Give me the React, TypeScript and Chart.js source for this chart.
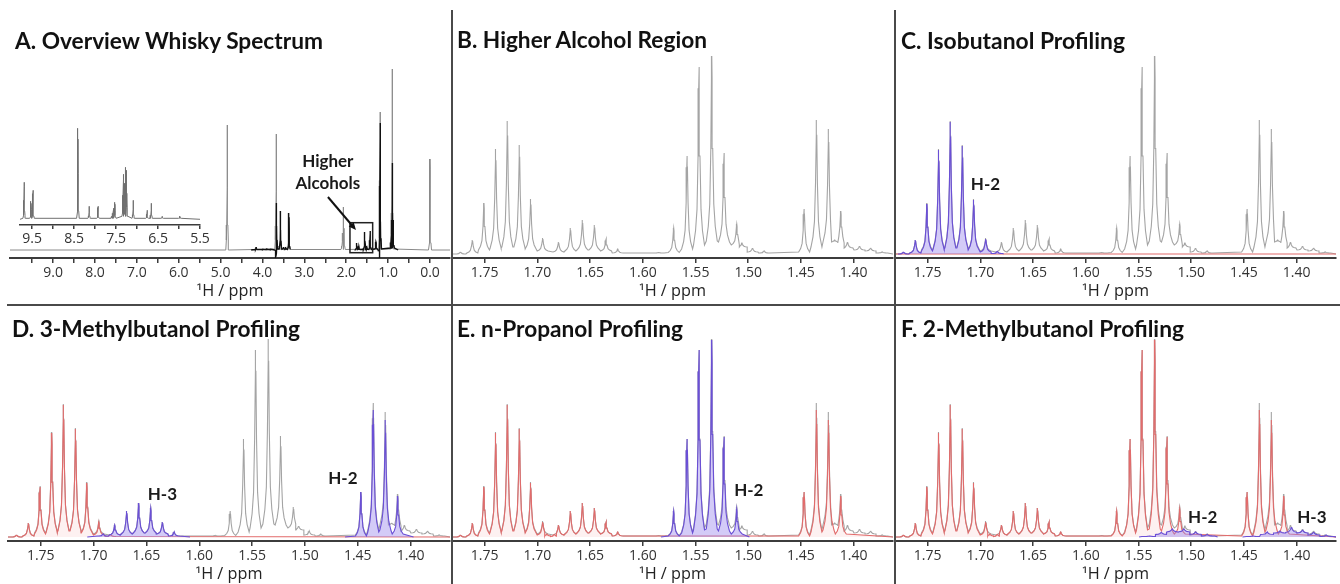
import React, { useEffect, useRef } from "react";
import { Chart, registerables } from "chart.js";

Chart.register(...registerables);

// ================= DATA =================
// Panel A – overview spectrum (ppm, relative intensity above baseline, local valley floor)
const OVERVIEW_TICKS = [9.5, 9, 8.5, 8, 7.5, 7, 6.5, 6, 5.5, 5, 4.5, 4, 3.5, 3, 2.5, 2, 1.5, 1, 0.5, 0];
const OVERVIEW_LABELS = [9, 8, 7, 6, 5, 4, 3, 2, 1, 0];
const OVERVIEW_PPM = [4.84, 4.16, 3.67, 3.57, 3.37, 2.09, 2.06, 1.19, 0.9, 0.0];
const OVERVIEW_HEIGHT = [125, 3, 116, 39, 37, 17, 43, 138, 181, 91];
const OVERVIEW_FLOOR = [0, 0.5, 1, 1, 0.5, 0.5, 0.5, 1, 1, 0];

const OVERVIEW_DARK_PPM = [4.15, 3.99, 3.9, 3.8, 3.68, 3.665, 3.57, 3.5, 3.45, 3.37, 1.75, 1.7, 1.56, 1.51, 1.43, 1.29, 1.205, 1.19, 0.92, 0.9, 0.88];
const OVERVIEW_DARK_HEIGHT = [3, 1, 1.5, 1, -7, 47, 39, 3, 3, 37, 7, 4, 18, 4, 19, 8, -8, 127, 30, 87, 30];
const OVERVIEW_DARK_FLOOR = [0.5, 0.5, 0.5, 0.5, 0, 1, 1, 1, 1, 0.5, 0.5, 0.5, 0.5, 0.5, 0.5, 1, 0, 1, 2, 2, 2];

// Panel A inset – aromatic region
const INSET_TICKS = [9.5, 9, 8.5, 8, 7.5, 7, 6.5, 6, 5.5];
const INSET_LABELS = [9.5, 8.5, 7.5, 6.5, 5.5];
const INSET_PPM = [9.69, 9.53, 9.48, 8.41, 8.14, 7.93, 7.61, 7.57, 7.53, 7.33, 7.3, 7.28, 7.25, 7.09, 6.76, 6.66, 6.4, 5.98];
const INSET_HEIGHT = [37, 18, 29, 91, 13, 13, 3, 11, 17, 45, 36, 52, 49, 19, 9, 16, 3, 3];
const INSET_FLOOR = [1, 1, 1, 1, 1, 1, 1, 1, 1, 3, 5, 5, 3, 1, 1, 1, 1, 1];

// Panels B–F – higher alcohol region
const REGION_TICKS = [1.75, 1.7, 1.65, 1.6, 1.55, 1.5, 1.45, 1.4];

// observed spectrum
const OBS_PPM = [1.773, 1.7617, 1.7507, 1.7396, 1.7285, 1.7171, 1.7064, 1.695, 1.68, 1.6687, 1.6573, 1.6459, 1.6349, 1.6238, 1.585, 1.5707, 1.558, 1.5467, 1.5346, 1.523, 1.5109, 1.506, 1.496, 1.485, 1.447, 1.4353, 1.4239, 1.418, 1.4122, 1.4059, 1.3945, 1.384, 1.373];
const OBS_HEIGHT = [2, 14, 51, 105, 133, 109, 55, 16, 12, 26, 34, 29, 15, 5, 1.5, 26, 98, 187, 198, 101, 30, 11, 6, 3, 45, 134, 125, 14, 43, 12, 8, 6, 2];
const OBS_FLOOR = [0, 1, 4, 6, 7, 7, 5, 3, 2, 3, 4, 4, 3, 1, 1, 1.5, 5, 9, 13, 12, 9, 7, 2, 1, 2, 7, 12, 12, 11, 6, 4, 3, 1];

// isobutanol H-2
const ISO_PPM = [1.773, 1.7617, 1.7507, 1.7396, 1.7285, 1.7171, 1.7064, 1.695, 1.684];
const ISO_HEIGHT = [2, 14, 50, 104, 132, 108, 54, 15, 2.5];
const ISO_FLOOR = [0, 1, 3, 5, 6, 6, 4, 2, 0.5];

// 3-methylbutanol H-3
const MB3_H3_PPM = [1.691, 1.68, 1.6687, 1.6573, 1.6459, 1.6349, 1.6238];
const MB3_H3_HEIGHT = [3, 12, 26, 34, 29, 15, 5];
const MB3_H3_FLOOR = [1, 2, 3, 4, 4, 3, 1];

// 3-methylbutanol H-2
const MB3_H2_PPM = [1.447, 1.4353, 1.4239, 1.4122];
const MB3_H2_HEIGHT = [45, 127, 117, 41];
const MB3_H2_FLOOR = [1, 5, 7, 3];

// n-propanol H-2
const NPROP_PPM = [1.5707, 1.558, 1.5467, 1.5346, 1.523, 1.5109];
const NPROP_HEIGHT = [26, 98, 187, 197, 100, 28];
const NPROP_FLOOR = [1, 4, 7, 8, 6, 3];

// 2-methylbutanol H-2 / H-3
const MB2_H2_PPM = [1.5395, 1.5284, 1.518, 1.507, 1.4958, 1.485];
const MB2_H2_HEIGHT = [1, 4.5, 8, 8, 5, 2.5];
const MB2_H2_FLOOR = [0.5, 2.5, 5, 5, 2.5, 1];

const MB2_H3_PPM = [1.4414, 1.428, 1.416, 1.405, 1.3945, 1.384, 1.372];
const MB2_H3_HEIGHT = [1, 5, 6, 10, 7, 5, 2];
const MB2_H3_FLOOR = [0.5, 2.5, 4, 4.5, 4, 2, 0.5];

// ================= STYLE / GEOMETRY =================
const REGION_MIN = 1.3627;
const REGION_MAX = 1.781;
const OVERVIEW_MIN = -0.478;
const OVERVIEW_MAX = 10.03;
const INSET_MIN = 5.5;
const INSET_MAX = 9.79;

const PAD = 18;
const AXIS_H = 30;

const GRAY = "#a4a4a4";
const A_GRAY = "#8a8a8a";
const PURPLE = "#6a4fd6";
const PURPLE_FILL = "rgba(150,130,236,0.42)";
const RED = "#e26b6b";
const RED_FILL = "rgba(236,120,120,0.10)";
const AXIS_COLOR = "#3c3c3c";

// line-shape vertices of one peak (offset in ppm, fraction of height above floor)
const PROFILE_OFFSET = [0.0052, 0.0033, 0.0019, 0.0009, 0.0003, 0];
const PROFILE_FRAC = [0, 0.08, 0.2, 0.5, 0.88, 1];

type PeakSet = { ppm: number[]; height: number[]; floor: number[] };
const peaks = (ppm: number[], height: number[], floor: number[]): PeakSet => ({ ppm, height, floor });
const merge = (...sets: PeakSet[]): PeakSet => ({
  ppm: sets.flatMap((s) => s.ppm),
  height: sets.flatMap((s) => s.height),
  floor: sets.flatMap((s) => s.floor),
});

type Pt = { x: number; y: number | null };

function spectrumPoints(
  s: PeakSet,
  widthScale: number,
  opts: { edges?: [number, number]; ext?: number; gap?: number } = {}
): Pt[] {
  const order = s.ppm.map((_, i) => i).sort((a, b) => s.ppm[a] - s.ppm[b]);
  const n = order.length;
  const pts: Pt[] = [];
  if (opts.edges) pts.push({ x: opts.edges[0], y: 0 });
  if (n === 0) {
    if (opts.edges) pts.push({ x: opts.edges[1], y: 0 });
    return pts;
  }
  if (!opts.edges && opts.ext) pts.push({ x: s.ppm[order[0]] - opts.ext, y: 0 });
  order.forEach((i, k) => {
    const p = s.ppm[i];
    const h = s.height[i];
    const f = s.floor[i];
    const prev = k > 0 ? s.ppm[order[k - 1]] : -Infinity;
    const next = k < n - 1 ? s.ppm[order[k + 1]] : Infinity;
    if (opts.gap && k > 0 && p - prev > opts.gap) pts.push({ x: (p + prev) / 2, y: null });
    const lo = (prev + p) / 2;
    const hi = (p + next) / 2;
    for (let j = 0; j < PROFILE_OFFSET.length; j++) {
      let x = p - PROFILE_OFFSET[j] * widthScale;
      if (j === 0) x = Math.max(x, lo);
      else if (x <= lo) continue;
      pts.push({ x, y: f + PROFILE_FRAC[j] * (h - f) });
    }
    for (let j = PROFILE_OFFSET.length - 2; j >= 0; j--) {
      let x = p + PROFILE_OFFSET[j] * widthScale;
      if (j === 0) x = Math.min(x, hi);
      else if (x >= hi) continue;
      pts.push({ x, y: f + PROFILE_FRAC[j] * (h - f) });
    }
  });
  if (opts.edges) pts.push({ x: opts.edges[1], y: 0 });
  else if (opts.ext) pts.push({ x: s.ppm[order[n - 1]] + opts.ext, y: 0 });
  return pts;
}

const OBS = peaks(OBS_PPM, OBS_HEIGHT, OBS_FLOOR);
const ISO = peaks(ISO_PPM, ISO_HEIGHT, ISO_FLOOR);
const MB3_H3 = peaks(MB3_H3_PPM, MB3_H3_HEIGHT, MB3_H3_FLOOR);
const MB3_H2 = peaks(MB3_H2_PPM, MB3_H2_HEIGHT, MB3_H2_FLOOR);
const NPROP = peaks(NPROP_PPM, NPROP_HEIGHT, NPROP_FLOOR);
const MB2_H2 = peaks(MB2_H2_PPM, MB2_H2_HEIGHT, MB2_H2_FLOOR);
const MB2_H3 = peaks(MB2_H3_PPM, MB2_H3_HEIGHT, MB2_H3_FLOOR);
const NONE = peaks([], [], []);

const REGION_EDGES: [number, number] = [REGION_MIN, REGION_MAX];

function line(data: Pt[], color: string, order: number, fillColor?: string, width = 1.1) {
  return {
    data,
    borderColor: color,
    borderWidth: width,
    pointRadius: 0,
    tension: 0,
    spanGaps: false,
    fill: fillColor ? "origin" : false,
    backgroundColor: fillColor || "transparent",
    order,
  };
}

const grayObs = () => line(spectrumPoints(OBS, 1, { edges: REGION_EDGES }), GRAY, 5);
const redFit = (s: PeakSet) => line(spectrumPoints(s, 1, { edges: REGION_EDGES }), RED, 3, RED_FILL);
const purpleFit = (s: PeakSet, ext: number, wScale = 1) =>
  line(spectrumPoints(s, wScale, { ext }), PURPLE, 1, PURPLE_FILL);

type Annot = {
  texts?: { text: string; x: number; y: number }[];
  box?: { x0: number; x1: number; y0: number; y1: number };
  arrow?: { from: [number, number]; to: [number, number] };
};

function annotPlugin(ann: Annot) {
  return {
    id: "annot",
    afterDatasetsDraw(chart: any) {
      const { ctx } = chart;
      const xs = chart.scales.x;
      const ys = chart.scales.y;
      ctx.save();
      if (ann.box) {
        const b = ann.box;
        const px0 = xs.getPixelForValue(b.x0);
        const px1 = xs.getPixelForValue(b.x1);
        const py0 = ys.getPixelForValue(b.y0);
        const py1 = ys.getPixelForValue(b.y1);
        ctx.strokeStyle = "#222";
        ctx.lineWidth = 1.5;
        ctx.strokeRect(Math.min(px0, px1), Math.min(py0, py1), Math.abs(px1 - px0), Math.abs(py1 - py0));
      }
      if (ann.arrow) {
        const ax0 = xs.getPixelForValue(ann.arrow.from[0]);
        const ay0 = ys.getPixelForValue(ann.arrow.from[1]);
        const ax1 = xs.getPixelForValue(ann.arrow.to[0]);
        const ay1 = ys.getPixelForValue(ann.arrow.to[1]);
        const ang = Math.atan2(ay1 - ay0, ax1 - ax0);
        const head = 8;
        ctx.strokeStyle = "#111";
        ctx.fillStyle = "#111";
        ctx.lineWidth = 2;
        ctx.beginPath();
        ctx.moveTo(ax0, ay0);
        ctx.lineTo(ax1 - Math.cos(ang) * head * 0.7, ay1 - Math.sin(ang) * head * 0.7);
        ctx.stroke();
        ctx.beginPath();
        ctx.moveTo(ax1, ay1);
        ctx.lineTo(ax1 - head * Math.cos(ang - 0.42), ay1 - head * Math.sin(ang - 0.42));
        ctx.lineTo(ax1 - head * Math.cos(ang + 0.42), ay1 - head * Math.sin(ang + 0.42));
        ctx.closePath();
        ctx.fill();
      }
      (ann.texts || []).forEach((t) => {
        ctx.font = "bold 17px Lato, 'Open Sans', sans-serif";
        ctx.fillStyle = "#1a1a1a";
        ctx.textAlign = "center";
        ctx.textBaseline = "middle";
        ctx.fillText(t.text, xs.getPixelForValue(t.x), ys.getPixelForValue(t.y));
      });
      ctx.restore();
    },
  };
}

type Area = { x0: number; x1: number; y0: number; y1: number };

function makeConfig(p: {
  datasets: any[];
  xMin: number;
  xMax: number;
  yMin: number;
  yMax: number;
  ticks: number[];
  labels: number[];
  decimals: number;
  fontSize: number;
  tickLen: number;
  borderWidth: number;
  annot?: Annot;
}) {
  return {
    type: "line",
    data: { datasets: p.datasets },
    options: {
      responsive: false,
      animation: false,
      devicePixelRatio: 1,
      events: [],
      layout: { padding: { left: PAD, right: PAD, top: 0, bottom: 0 } },
      plugins: { legend: { display: false }, tooltip: { enabled: false }, title: { display: false } },
      scales: {
        x: {
          type: "linear",
          reverse: true,
          min: p.xMin,
          max: p.xMax,
          afterBuildTicks: (s: any) => {
            s.ticks = p.ticks.map((v) => ({ value: v }));
          },
          afterFit: (s: any) => {
            s.height = AXIS_H;
            s.paddingLeft = 0;
            s.paddingRight = 0;
          },
          ticks: {
            autoSkip: false,
            maxRotation: 0,
            minRotation: 0,
            padding: 2,
            color: "#333",
            font: { family: "'Open Sans', sans-serif", size: p.fontSize },
            callback: (v: any) =>
              p.labels.some((l) => Math.abs(l - Number(v)) < 1e-6) ? Number(v).toFixed(p.decimals) : "",
          },
          grid: {
            display: true,
            drawOnChartArea: false,
            drawTicks: true,
            tickLength: p.tickLen,
            color: AXIS_COLOR,
            lineWidth: 1.5,
          },
          border: { display: true, color: AXIS_COLOR, width: p.borderWidth },
        },
        y: { display: false, min: p.yMin, max: p.yMax },
      },
    },
    plugins: p.annot ? [annotPlugin(p.annot)] : [],
  };
}

function SpectrumCanvas({ area, config }: { area: Area; config: () => any }) {
  const ref = useRef<HTMLCanvasElement>(null);
  const w = area.x1 - area.x0 + 2 * PAD;
  const h = area.y1 - area.y0 + AXIS_H;
  useEffect(() => {
    const chart = new Chart(ref.current as HTMLCanvasElement, config() as any);
    return () => chart.destroy();
  }, []);
  return (
    <canvas
      ref={ref}
      width={w}
      height={h}
      style={{ position: "absolute", left: area.x0 - PAD, top: area.y0, width: w, height: h }}
    />
  );
}

const regionConfig = (datasets: any[], annot?: Annot) =>
  makeConfig({
    datasets,
    xMin: REGION_MIN,
    xMax: REGION_MAX,
    yMin: -4,
    yMax: 224,
    ticks: REGION_TICKS,
    labels: REGION_TICKS,
    decimals: 2,
    fontSize: 14,
    tickLen: 5,
    borderWidth: 2,
    annot,
  });

const PANELS: { area: Area; config: () => any }[] = [
  {
    area: { x0: 10, x1: 450, y0: 30, y1: 258 },
    config: () =>
      makeConfig({
        datasets: [
          line(
            spectrumPoints(peaks(OVERVIEW_DARK_PPM, OVERVIEW_DARK_HEIGHT, OVERVIEW_DARK_FLOOR), 6, { ext: 0.12, gap: 1 }),
            "#111",
            1,
            undefined,
            1.4
          ),
          line(
            spectrumPoints(peaks(OVERVIEW_PPM, OVERVIEW_HEIGHT, OVERVIEW_FLOOR), 7, { edges: [OVERVIEW_MIN, OVERVIEW_MAX] }),
            A_GRAY,
            2,
            undefined,
            1
          ),
        ],
        xMin: OVERVIEW_MIN,
        xMax: OVERVIEW_MAX,
        yMin: -8,
        yMax: 220,
        ticks: OVERVIEW_TICKS,
        labels: OVERVIEW_LABELS,
        decimals: 1,
        fontSize: 14,
        tickLen: 5,
        borderWidth: 2,
        annot: {
          box: { x0: 1.911, x1: 1.369, y0: -2.7, y1: 27.3 },
          arrow: { from: [2.437, 53], to: [1.768, 20] },
          texts: [
            { text: "Higher", x: 2.44, y: 88 },
            { text: "Alcohols", x: 2.44, y: 66 },
          ],
        },
      }),
  },
  {
    area: { x0: 20, x1: 200, y0: 100, y1: 225 },
    config: () =>
      makeConfig({
        datasets: [
          line(
            spectrumPoints(peaks(INSET_PPM, INSET_HEIGHT, INSET_FLOOR), 6, { edges: [INSET_MIN, INSET_MAX] }),
            "#707070",
            1,
            undefined,
            1
          ),
        ],
        xMin: INSET_MIN,
        xMax: INSET_MAX,
        yMin: -5.7,
        yMax: 119.3,
        ticks: INSET_TICKS,
        labels: INSET_LABELS,
        decimals: 1,
        fontSize: 14,
        tickLen: 4,
        borderWidth: 1.6,
      }),
  },
  { area: { x0: 452, x1: 893, y0: 30, y1: 258 }, config: () => regionConfig([grayObs()]) },
  {
    area: { x0: 895, x1: 1336, y0: 30, y1: 258 },
    config: () =>
      regionConfig([grayObs(), line(spectrumPoints(NONE, 1, { edges: REGION_EDGES }), RED, 3), purpleFit(ISO, 0.006)], {
        texts: [{ text: "H-2", x: 1.6952, y: 69 }],
      }),
  },
  {
    area: { x0: 8, x1: 450, y0: 313, y1: 541 },
    config: () =>
      regionConfig([grayObs(), redFit(ISO), purpleFit(MB3_H3, 0.015), purpleFit(MB3_H2, 0.015)], {
        texts: [
          { text: "H-3", x: 1.6349, y: 42 },
          { text: "H-2", x: 1.4641, y: 58 },
        ],
      }),
  },
  {
    area: { x0: 452, x1: 893, y0: 313, y1: 541 },
    config: () =>
      regionConfig([grayObs(), redFit(merge(ISO, MB3_H3, MB3_H2)), purpleFit(NPROP, 0.012)], {
        texts: [{ text: "H-2", x: 1.4995, y: 46 }],
      }),
  },
  {
    area: { x0: 895, x1: 1336, y0: 313, y1: 541 },
    config: () =>
      regionConfig(
        [grayObs(), redFit(merge(ISO, MB3_H3, NPROP, MB3_H2)), purpleFit(MB2_H2, 0.01, 1.4), purpleFit(MB2_H3, 0.01, 1.2)],
        {
          texts: [
            { text: "H-2", x: 1.4891, y: 19 },
            { text: "H-3", x: 1.3856, y: 19 },
          ],
        }
      ),
  },
];

const TITLES = [
  { text: "A. Overview Whisky Spectrum", x: 15, y: 49, w: 308 },
  { text: "B. Higher Alcohol Region", x: 457, y: 48, w: 250 },
  { text: "C. Isobutanol Profiling", x: 901, y: 48.5, w: 224 },
  { text: "D. 3-Methylbutanol Profiling", x: 12, y: 337, w: 288 },
  { text: "E. n-Propanol Profiling", x: 457, y: 337, w: 226 },
  { text: "F. 2-Methylbutanol Profiling", x: 901, y: 337, w: 283 },
];

const AXIS_TITLES = [
  { x: 230, y: 296 },
  { x: 672.5, y: 296 },
  { x: 1115.5, y: 296 },
  { x: 229, y: 579 },
  { x: 672.5, y: 579 },
  { x: 1115.5, y: 579 },
];

export default function App() {
  useEffect(() => {
    document.body.style.margin = "0";
    document.body.style.background = "#fff";
  }, []);
  return (
    <div style={{ position: "fixed", left: 0, top: 0, width: 1340, height: 584, background: "#fff", overflow: "hidden" }}>
      {PANELS.map((p, i) => (
        <SpectrumCanvas key={i} area={p.area} config={p.config} />
      ))}
      <svg width={1340} height={584} style={{ position: "absolute", left: 0, top: 0, pointerEvents: "none" }}>
        <line x1={452} y1={10} x2={452} y2={584} stroke="#4a4a4a" strokeWidth={2} />
        <line x1={895} y1={10} x2={895} y2={584} stroke="#4a4a4a" strokeWidth={2} />
        <line x1={7} y1={305} x2={1340} y2={305} stroke="#4a4a4a" strokeWidth={2} />
        {TITLES.map((t, i) => (
          <text
            key={i}
            x={t.x}
            y={t.y}
            fontFamily="Lato, 'Open Sans', sans-serif"
            fontWeight={700}
            fontSize={23}
            textLength={t.w}
            lengthAdjust="spacingAndGlyphs"
            fill="#111"
          >
            {t.text}
          </text>
        ))}
        {AXIS_TITLES.map((a, i) => (
          <text
            key={i}
            x={a.x}
            y={a.y}
            textAnchor="middle"
            fontFamily="'Open Sans', sans-serif"
            fontSize={15.5}
            textLength={67}
            lengthAdjust="spacingAndGlyphs"
            fill="#222"
          >
            ¹H / ppm
          </text>
        ))}
      </svg>
    </div>
  );
}
